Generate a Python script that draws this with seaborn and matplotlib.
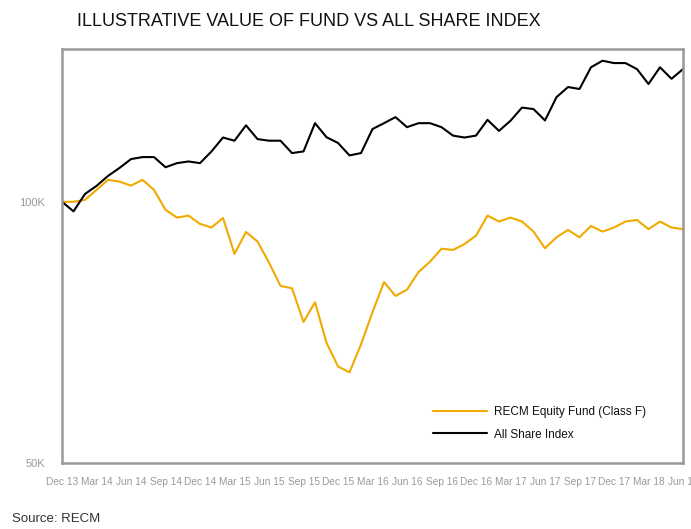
import pandas as pd
import matplotlib.pyplot as plt
import seaborn as sns
from matplotlib.ticker import NullLocator

# Monthly values, Dec 2013 to Jun 2018 (rebased to 100K)
fund = [100.0, 100.0, 100.5, 103.2, 106.0, 105.5, 104.4, 106.0, 103.2, 97.9,
        95.9, 96.4, 94.3, 93.4, 95.8, 87.1, 92.3, 90.0, 85.1, 80.0,
        79.5, 72.7, 76.6, 68.8, 64.6, 63.6, 68.5, 74.6, 80.8, 77.9,
        79.2, 83.0, 85.3, 88.3, 88.0, 89.4, 91.4, 96.4, 94.9, 95.9,
        94.9, 92.4, 88.4, 91.0, 92.8, 91.0, 93.8, 92.4, 93.4, 94.9,
        95.3, 93.0, 94.9, 93.4, 93.0]
index = [100.0, 97.5, 102.1, 104.3, 107.1, 109.4, 112.0, 112.6, 112.6, 109.6,
         110.8, 111.3, 110.8, 114.3, 118.6, 117.6, 122.5, 118.1, 117.6, 117.6,
         113.8, 114.3, 123.2, 118.7, 116.9, 113.1, 113.8, 121.3, 123.2, 125.2,
         121.9, 123.2, 123.2, 121.9, 119.2, 118.6, 119.2, 124.3, 120.7, 124.0,
         128.4, 127.9, 124.1, 132.0, 135.6, 134.9, 142.9, 145.4, 144.5, 144.5,
         142.2, 136.7, 142.9, 138.6, 142.2]
tick_labels = ["Dec 13", "Mar 14", "Jun 14", "Sep 14", "Dec 14", "Mar 15", "Jun 15",
               "Sep 15", "Dec 15", "Mar 16", "Jun 16", "Sep 16", "Dec 16", "Mar 17",
               "Jun 17", "Sep 17", "Dec 17", "Mar 18", "Jun 18"]
series_names = ["RECM Equity Fund (Class F)", "All Share Index"]

months = list(range(len(fund)))
df = pd.concat([
    pd.DataFrame({"month": months, "value": [v * 1000 for v in fund], "series": series_names[0]}),
    pd.DataFrame({"month": months, "value": [v * 1000 for v in index], "series": series_names[1]}),
], ignore_index=True)

sns.set_theme(style="white")
plt.rcParams["font.family"] = ["Liberation Sans Narrow", "Liberation Sans", "DejaVu Sans"]

fig = plt.figure(figsize=(6.91, 5.29), dpi=100)
ax = fig.add_axes([62 / 691, 1 - 463 / 529, 621 / 691, 414 / 529])

sns.lineplot(data=df, x="month", y="value", hue="series", hue_order=series_names,
             palette=["#F0AA00", "#000000"], linewidth=1.5, ax=ax)

# log scale: 50K -> 100K spans the lower part, top around 150K
ax.set_yscale("log")
ax.set_ylim(50000, 150000)
ax.set_yticks([50000, 100000])
ax.set_yticklabels(["50K", "100K"])
ax.yaxis.set_minor_locator(NullLocator())
ax.set_xlim(0, len(fund) - 1)
ax.set_xticks(months[::3])
ax.set_xticklabels(tick_labels)
ax.tick_params(axis="x", length=0, labelsize=7.3, labelcolor="#999999", pad=10)
ax.tick_params(axis="y", length=0, labelsize=8, labelcolor="#999999", pad=12)
ax.set_xlabel("")
ax.set_ylabel("")

for s in ax.spines.values():
    s.set_color("#999999")
    s.set_linewidth(1.8)

leg = ax.legend(loc="center left", bbox_to_anchor=((433 - 62) / 621, (463 - 423.5) / 414),
                frameon=False, fontsize=8.5, handlelength=4.6, handletextpad=0.6,
                labelspacing=0.85, borderpad=0, borderaxespad=0)
for t in leg.get_texts():
    t.set_color("#111111")

fig.text(77 / 691, 1 - 22 / 529, "ILLUSTRATIVE VALUE OF FUND VS ALL SHARE INDEX",
         ha="left", va="center", fontsize=13, color="#111111")
fig.text(12 / 691, 1 - 519 / 529, "Source: RECM", ha="left", va="center",
         fontsize=9.5, color="#333333")

plt.savefig("out.png", dpi=100)
